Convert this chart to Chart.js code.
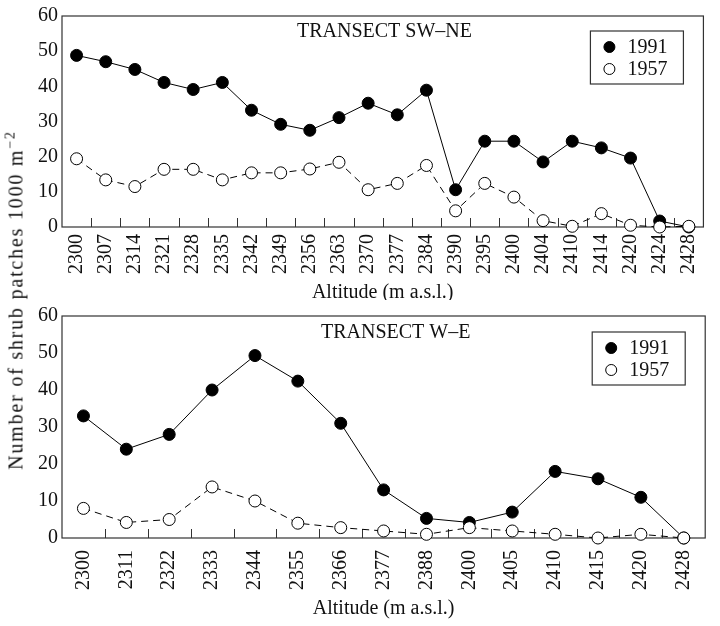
<!DOCTYPE html>
<html><head><meta charset="utf-8">
<script src="https://cdn.jsdelivr.net/npm/chart.js@4/dist/chart.umd.min.js"></script>
<style>
body{margin:0;background:#fff;}
#wrap{position:relative;width:720px;height:626px;overflow:hidden;}
canvas{position:absolute;left:0;}
#ytitle{position:absolute;left:16px;top:300px;transform:translate(-50%,-50%) rotate(-90deg);white-space:nowrap;font:20px 'Liberation Serif',serif;color:#111;letter-spacing:1.8px;}
#ytitle sup{font-size:0.7em;vertical-align:0.55em;line-height:0;}
</style></head>
<body><div id="wrap">
<canvas id="c1" width="720" height="300" style="top:0"></canvas>
<canvas id="c2" width="720" height="326" style="top:300px"></canvas>
<div id="ytitle">Number of shrub patches 1000 m<sup>−2</sup></div>
</div>
<script>
// Transect SW–NE
const swneAltitudes = ['2300','2307','2314','2321','2328','2335','2342','2349','2356','2363','2370','2377','2384','2390','2395','2400','2404','2410','2414','2420','2424','2428'];
const swne1991 = [48.8,47.0,44.8,41.1,39.1,41.1,33.2,29.2,27.5,31.1,35.2,31.9,38.9,10.6,24.4,24.4,18.5,24.4,22.5,19.6,1.7,0];
const swne1957 = [19.4,13.4,11.5,16.4,16.4,13.4,15.4,15.4,16.5,18.4,10.6,12.4,17.5,4.6,12.4,8.5,1.8,0.2,3.8,0.5,0,0.2];
// Transect W–E
const weAltitudes = ['2300','2311','2322','2333','2344','2355','2366','2377','2388','2400','2405','2410','2415','2420','2428'];
const we1991 = [33,24,28,40,49.3,42.4,31,13,5.3,4.2,7,18,16,11,0];
const we1957 = [8,4.2,5,13.8,10,4,2.8,1.9,1,2.8,1.9,1,0,1,0];
const seriesNames = ['1991','1957'];
const yMin = 0, yMax = 60, yStep = 10;
const xTitle = 'Altitude (m a.s.l.)';

const FONT = "'Liberation Serif', serif";

const panelPlugin = {
  id: 'panel',
  beforeDatasetsDraw(chart, args, opts) {
    const {ctx, chartArea: a, scales: {x}} = chart;
    ctx.save();
    ctx.strokeStyle = '#333';
    ctx.lineWidth = 1.2;
    ctx.strokeRect(a.left, a.top, a.right - a.left, a.bottom - a.top);
    ctx.lineWidth = 1;
    const n = chart.data.labels.length;
    ctx.beginPath();
    for (let i = 1; i < n; i++) {
      const px = Math.round((x.getPixelForValue(i - 1) + x.getPixelForValue(i)) / 2) + 0.5;
      ctx.moveTo(px, a.bottom);
      ctx.lineTo(px, a.bottom - 9);
    }
    ctx.stroke();
    ctx.restore();
  },
  afterDatasetsDraw(chart, args, opts) {
    const {ctx, chartArea: a} = chart;
    ctx.save();
    ctx.fillStyle = '#111';
    ctx.font = '20px ' + FONT;
    ctx.textBaseline = 'middle';
    ctx.textAlign = 'left';
    ctx.fillText(opts.title, a.left + opts.titleDx, a.top + opts.titleDy);
    // legend box
    const bx = a.right - 113, by = a.top + opts.legDy, bw = 93, bh = 53;
    ctx.fillStyle = '#fff';
    ctx.fillRect(bx, by, bw, bh);
    ctx.strokeStyle = '#333';
    ctx.lineWidth = 1.2;
    ctx.strokeRect(bx, by, bw, bh);
    chart.data.datasets.forEach((ds, i) => {
      const cy = by + 16 + i * 22;
      ctx.beginPath();
      ctx.arc(bx + 19, cy, 5.5, 0, Math.PI * 2);
      ctx.fillStyle = ds.pointBackgroundColor;
      ctx.fill();
      ctx.lineWidth = 1;
      ctx.strokeStyle = '#000';
      ctx.stroke();
      ctx.fillStyle = '#111';
      ctx.fillText(ds.label, bx + 37, cy + 1);
    });
    ctx.restore();
  }
};

function makeChart(id, labels, d1991, d1957, cfg) {
  return new Chart(document.getElementById(id), {
    type: 'line',
    data: {
      labels: labels,
      datasets: [
        {label: seriesNames[0], data: d1991, borderColor: '#000', borderWidth: 1,
         pointBackgroundColor: '#000', pointBorderColor: '#000', pointBorderWidth: 1,
         pointRadius: 6, tension: 0, order: 1, clip: false},
        {label: seriesNames[1], data: d1957, borderColor: '#000', borderWidth: 1, borderDash: [7, 5],
         pointBackgroundColor: '#fff', pointBorderColor: '#000', pointBorderWidth: 1,
         pointRadius: 6, tension: 0, order: 0, clip: false}
      ]
    },
    plugins: [panelPlugin],
    options: {
      responsive: false,
      animation: false,
      devicePixelRatio: 1,
      layout: {padding: {left: 0, right: 3, top: cfg.padTop, bottom: 0}},
      plugins: {
        legend: {display: false},
        tooltip: {enabled: false},
        panel: {title: cfg.title, titleDx: cfg.titleDx, titleDy: cfg.titleDy, legDy: cfg.legDy}
      },
      scales: {
        x: {
          type: 'category',
          offset: true,
          grid: {display: false, drawTicks: false, tickLength: 0},
          border: {display: false},
          ticks: {autoSkip: false, minRotation: 90, maxRotation: 90, padding: cfg.xPad,
                  font: {family: FONT, size: 20}, color: '#111'},
          title: {display: true, text: xTitle, font: {family: FONT, size: 20, lineHeight: 1.2},
                  color: '#111', padding: {top: 0, bottom: cfg.titlePadBottom}},
          afterFit(s) { s.height = cfg.xHeight; }
        },
        y: {
          min: yMin, max: yMax,
          grid: {display: false, drawTicks: false, tickLength: 0},
          border: {display: false},
          ticks: {stepSize: yStep, padding: 4, font: {family: FONT, size: 20}, color: '#111'},
          afterFit(s) { s.width = 62; }
        }
      }
    }
  });
}

makeChart('c1', swneAltitudes, swne1991, swne1957,
  {padTop: 10, xHeight: 73, xPad: 7, titlePadBottom: -5, title: 'TRANSECT SW–NE', titleDx: 235, titleDy: 16, legDy: 15});
makeChart('c2', weAltitudes, we1991, we1957,
  {padTop: 12, xHeight: 88, xPad: 12, titlePadBottom: 5, title: 'TRANSECT W–E', titleDx: 259, titleDy: 17, legDy: 16});
</script>
</body></html>
